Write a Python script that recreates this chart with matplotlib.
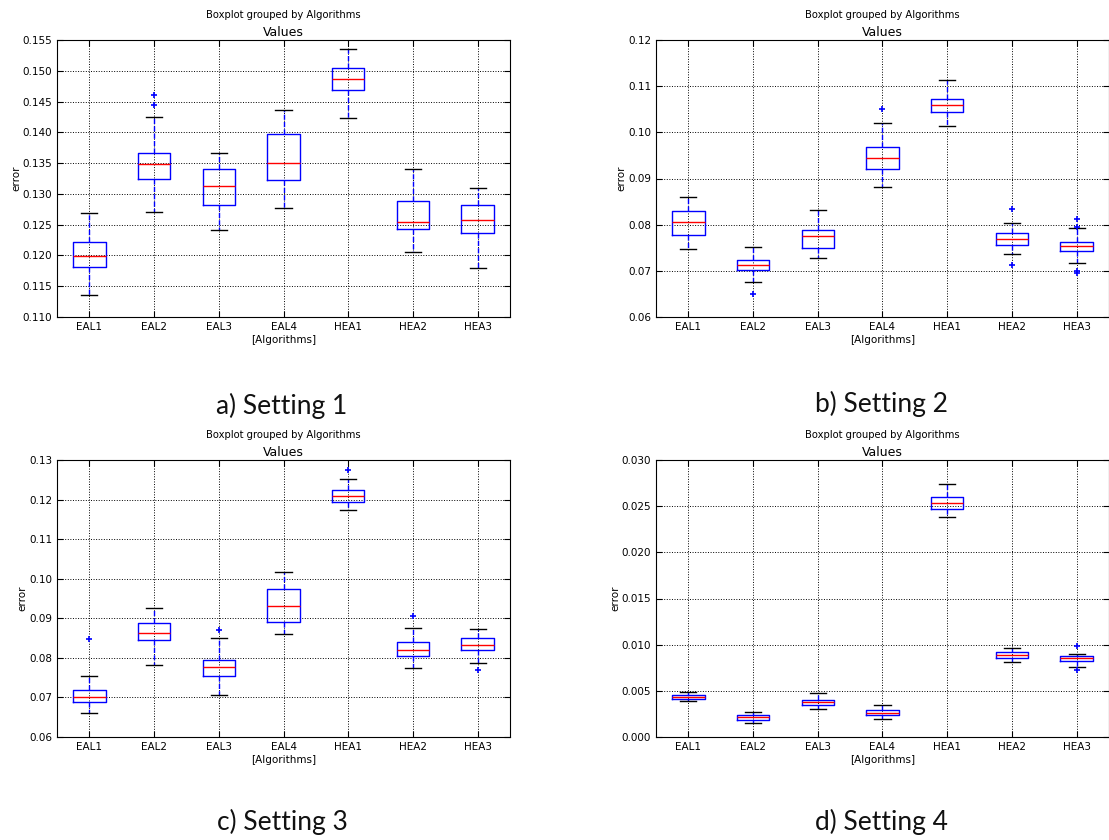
import matplotlib
matplotlib.use('Agg')
import matplotlib.pyplot as plt
import numpy as np

# 共通設定
plt.rcParams.update({'font.family': 'DejaVu Sans', 'font.size': 7.5})

algorithms = ['EAL1', 'EAL2', 'EAL3', 'EAL4', 'HEA1', 'HEA2', 'HEA3']

# Setting 1
s1_whislo = [0.1136, 0.1271, 0.1241, 0.1277, 0.1424, 0.1206, 0.1180]
s1_q1 = [0.1181, 0.1324, 0.1282, 0.1323, 0.1468, 0.1243, 0.1237]
s1_med = [0.1199, 0.1348, 0.1313, 0.1350, 0.1487, 0.1254, 0.1257]
s1_q3 = [0.1222, 0.1366, 0.1341, 0.1397, 0.1505, 0.1288, 0.1282]
s1_whishi = [0.1269, 0.1425, 0.1366, 0.1437, 0.1536, 0.1340, 0.1310]
s1_fliers = [[], [0.1460, 0.1445], [], [], [], [], []]

# Setting 2
s2_whislo = [0.0747, 0.0676, 0.0728, 0.0881, 0.1013, 0.0737, 0.0718]
s2_q1 = [0.0778, 0.0701, 0.0749, 0.0920, 0.1044, 0.0756, 0.0743]
s2_med = [0.0805, 0.0712, 0.0776, 0.0944, 0.1059, 0.0770, 0.0754]
s2_q3 = [0.0829, 0.0723, 0.0788, 0.0969, 0.1072, 0.0781, 0.0763]
s2_whishi = [0.0861, 0.0752, 0.0831, 0.1020, 0.1113, 0.0803, 0.0793]
s2_fliers = [[], [0.0649], [], [0.1050], [], [0.0834, 0.0713],
             [0.0812, 0.0796, 0.0700, 0.0695]]

# Setting 3
s3_whislo = [0.0661, 0.0783, 0.0706, 0.0860, 0.1173, 0.0775, 0.0788]
s3_q1 = [0.0688, 0.0845, 0.0755, 0.0891, 0.1195, 0.0804, 0.0820]
s3_med = [0.0702, 0.0863, 0.0777, 0.0932, 0.1209, 0.0820, 0.0832]
s3_q3 = [0.0720, 0.0889, 0.0794, 0.0975, 0.1223, 0.0841, 0.0850]
s3_whishi = [0.0753, 0.0925, 0.0850, 0.1016, 0.1251, 0.0875, 0.0873]
s3_fliers = [[0.0847], [], [0.0870], [], [0.1274], [0.0905], [0.0770]]

# Setting 4
s4_whislo = [0.00386, 0.00151, 0.00307, 0.00195, 0.02383, 0.00815, 0.00754]
s4_q1 = [0.00415, 0.00188, 0.00343, 0.00238, 0.02474, 0.00858, 0.00822]
s4_med = [0.00433, 0.00213, 0.00379, 0.00260, 0.02531, 0.00883, 0.00851]
s4_q3 = [0.00451, 0.00238, 0.00400, 0.00292, 0.02603, 0.00916, 0.00873]
s4_whishi = [0.00487, 0.00267, 0.00472, 0.00350, 0.02737, 0.00959, 0.00901]
s4_fliers = [[], [], [], [], [], [], [0.00988, 0.00725]]

settings = [
    ('a) Setting 1', s1_whislo, s1_q1, s1_med, s1_q3, s1_whishi, s1_fliers,
     (0.110, 0.155), 0.005, '%.3f'),
    ('b) Setting 2', s2_whislo, s2_q1, s2_med, s2_q3, s2_whishi, s2_fliers,
     (0.06, 0.12), 0.01, '%.2f'),
    ('c) Setting 3', s3_whislo, s3_q1, s3_med, s3_q3, s3_whishi, s3_fliers,
     (0.06, 0.13), 0.01, '%.2f'),
    ('d) Setting 4', s4_whislo, s4_q1, s4_med, s4_q3, s4_whishi, s4_fliers,
     (0.0, 0.030), 0.005, '%.3f'),
]

# 軸の位置 (left, bottom, width, height)
positions = [
    [0.0514, 0.6226, 0.4085, 0.3298],
    [0.5915, 0.6226, 0.4085, 0.3298],
    [0.0514, 0.1226, 0.4085, 0.3298],
    [0.5915, 0.1226, 0.4085, 0.3298],
]
caption_xy = [(0.254, 0.517), (0.795, 0.519), (0.255, 0.021), (0.795, 0.021)]

fig = plt.figure(figsize=(11.09, 8.40), dpi=100)

for (cap, wlo, q1, med, q3, whi, fl, ylim, step, fmt), pos, cxy in zip(settings, positions, caption_xy):
    ax = fig.add_axes(pos)
    stats = []
    for i, name in enumerate(algorithms):
        stats.append(dict(label=name, whislo=wlo[i], q1=q1[i], med=med[i],
                          q3=q3[i], whishi=whi[i], fliers=fl[i]))
    ax.bxp(stats, widths=0.5,
           boxprops=dict(color='blue', lw=1.0),
           medianprops=dict(color='red', lw=1.0),
           whiskerprops=dict(color='blue', ls='--', lw=1.0),
           capprops=dict(color='black', lw=1.0),
           flierprops=dict(marker='+', markeredgecolor='blue', markersize=5, mew=1.2))
    ax.set_xlim(0.5, 7.5)
    ax.set_ylim(*ylim)
    ax.set_yticks(np.arange(ylim[0], ylim[1] + step / 2, step))
    ax.yaxis.set_major_formatter(matplotlib.ticker.FormatStrFormatter(fmt))
    ax.grid(True, color='black', linestyle=':', linewidth=0.7)
    ax.tick_params(direction='in', top=True, right=True, length=4, labelsize=7.5)
    ax.set_xlabel('[Algorithms]', fontsize=7.5, labelpad=2)
    ax.set_ylabel('error', fontsize=7.5, labelpad=1)
    ax.set_title('Values', fontsize=9, pad=3)
    ax.text(0.5, 1.09, 'Boxplot grouped by Algorithms', transform=ax.transAxes,
            ha='center', va='center', fontsize=7.2)
    fig.text(cxy[0], cxy[1], cap, ha='center', va='center', fontsize=19,
             family='Lato', color='#111111')

fig.savefig('out.png', dpi=100)
